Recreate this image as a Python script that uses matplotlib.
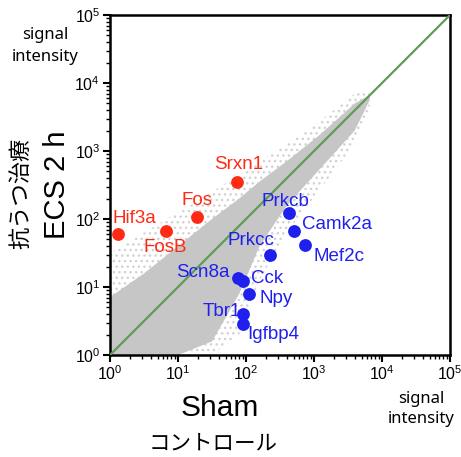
import matplotlib
matplotlib.use('Agg')
from matplotlib import pyplot as plt
from matplotlib.ticker import LogLocator, NullFormatter

plt.rcParams['font.family'] = ['Liberation Sans', 'Noto Sans CJK JP', 'DejaVu Sans']
plt.rcParams['mathtext.fontset'] = 'custom'
plt.rcParams['mathtext.rm'] = 'Liberation Sans'
plt.rcParams['hatch.linewidth'] = 1.0

# Background gene cloud (Sham vs ECS)
cloud_x = [1, 3.16, 10, 31.6, 79.4, 158, 398, 1260, 3980, 6610]
dense_lo = [1, 1, 1, 1.58, 7.9, 39.8, 158, 562, 2000, 5620]
dense_hi = [7.1, 15.8, 39.8, 100, 200, 355, 708, 1780, 5010, 6610]
sparse_lo = [1, 1, 1, 1, 2.0, 12.6, 63, 282, 1260, 3980]
sparse_hi = [31.6, 63, 126, 251, 447, 708, 1260, 2820, 7080, 7940]

up_genes = ['Srxn1', 'Fos', 'Hif3a', 'FosB']
up_sham = [74.5, 18.8, 1.3, 6.6]
up_ecs = [347, 106, 61, 67]

down_genes = ['Prkcb', 'Camk2a', 'Mef2c', 'Prkcc', 'Scn8a', 'Cck', 'Npy', 'Tbr1', 'Igfbp4']
down_sham = [429, 513, 745, 225, 76, 89, 111, 91, 91]
down_ecs = [122, 67, 42, 30, 13.6, 12.4, 7.9, 4.05, 2.9]

# label offsets in pixels from the dot
up_off = [(1, 18), (0, 17), (17, 15), (0, -17)]
down_off = [(-4, 12), (43, 6), (34, -12), (-19, 14), (-35, 5), (25, 2), (27, -5), (-21, 2), (30, -11)]

W, H = 461, 457
fig = plt.figure(figsize=(W / 100, H / 100), dpi=100)
ax = fig.add_axes([110 / W, 1 - 355 / H, 340 / W, 340 / H])

ax.fill_between(cloud_x, sparse_lo, sparse_hi, facecolor='none', edgecolor='#d2d2d2',
                hatch='...', linewidth=0, zorder=1)
ax.fill_between(cloud_x, dense_lo, dense_hi, facecolor='#c6c6c6', linewidth=0, zorder=2)

ax.plot([1, 1e5], [1, 1e5], color='#5c9e52', lw=1.6, zorder=3)

ax.scatter(up_sham, up_ecs, s=85, color='#ff2a14', zorder=4, linewidths=0)
ax.scatter(down_sham, down_ecs, s=85, color='#1f1fee', zorder=4, linewidths=0)
for g, x, y, o in zip(up_genes, up_sham, up_ecs, up_off):
    ax.annotate(g, (x, y), xytext=o, textcoords='offset pixels', ha='center', va='center',
                color='#ff2a14', fontsize=13.5, zorder=5)
for g, x, y, o in zip(down_genes, down_sham, down_ecs, down_off):
    ax.annotate(g, (x, y), xytext=o, textcoords='offset pixels', ha='center', va='center',
                color='#1f1fee', fontsize=13.5, zorder=5)

ax.set_xscale('log')
ax.set_yscale('log')
ax.set_xlim(1, 1e5)
ax.set_ylim(1, 1e5)
for s in ax.spines.values():
    s.set_linewidth(1.8)
ax.xaxis.set_major_locator(LogLocator(base=10, numticks=10))
ax.yaxis.set_major_locator(LogLocator(base=10, numticks=10))
ax.xaxis.set_minor_locator(LogLocator(base=10, subs=range(2, 10), numticks=20))
ax.yaxis.set_minor_locator(LogLocator(base=10, subs=range(2, 10), numticks=20))
ax.xaxis.set_minor_formatter(NullFormatter())
ax.yaxis.set_minor_formatter(NullFormatter())
ax.tick_params(which='major', length=5, width=1.5, labelsize=11.5, pad=2, direction='out')
ax.tick_params(which='minor', length=3, width=1.0, direction='out')
ax.tick_params(top=False, right=False, which='both')

fig.text(45 / W, 1 - 46 / H, 'signal\nintensity', ha='center', va='center', fontsize=12,
         family=['Noto Sans', 'DejaVu Sans'], linespacing=1.45)
fig.text(421 / W, 1 - 409 / H, 'signal\nintensity', ha='center', va='center', fontsize=12,
         family=['Noto Sans', 'DejaVu Sans'], linespacing=1.3)
fig.text(220 / W, 1 - 408 / H, 'Sham', ha='center', va='center', fontsize=21.5)
fig.text(213 / W, 1 - 443 / H, 'コントロール', ha='center', va='center', fontsize=15.5,
         family=['Noto Sans CJK JP'])
fig.text(57 / W, 1 - 185 / H, 'ECS 2 h', ha='center', va='center', fontsize=21, rotation=90)
fig.text(21 / W, 1 - 193 / H, '抗うつ治療', ha='center', va='center', fontsize=16, rotation=90,
         family=['Noto Sans CJK JP'])

fig.savefig('out.png', dpi=100)
